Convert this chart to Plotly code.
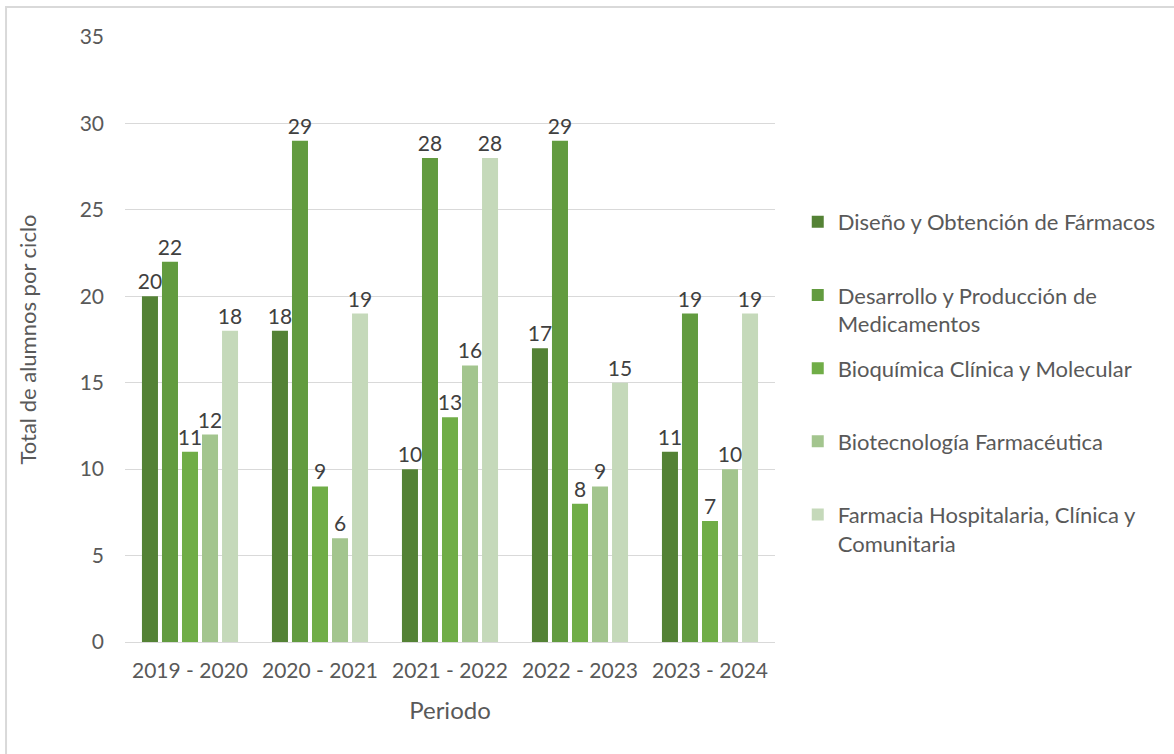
import plotly.graph_objects as go

periods = ["2019 - 2020", "2020 - 2021", "2021 - 2022", "2022 - 2023", "2023 - 2024"]
series_names = [
    "Diseño y Obtención de Fármacos",
    "Desarrollo y Producción de<br>Medicamentos",
    "Bioquímica Clínica y Molecular",
    "Biotecnología Farmacéutica",
    "Farmacia Hospitalaria, Clínica y<br>Comunitaria",
]
diseno = [20, 18, 10, 17, 11]
desarrollo = [22, 29, 28, 29, 19]
bioquimica = [11, 9, 13, 8, 7]
biotecnologia = [12, 6, 16, 9, 10]
farmacia = [18, 19, 28, 15, 19]
colors = ["#548235", "#629B3F", "#70AD47", "#A3C58E", "#C5D9BA"]

FONT = "Lato"
TEXT = "#595959"

fig = go.Figure()
for name, values, color in zip(series_names, [diseno, desarrollo, bioquimica, biotecnologia, farmacia], colors):
    # pad single-line names so every legend entry is two lines tall
    label = name if "<br>" in name else name + "<br> "
    fig.add_trace(
        go.Bar(
            x=periods,
            y=values,
            name=label,
            legendgroup=name,
            marker={"color": color, "line": {"width": 0}},
            text=values,
            textposition="outside",
            constraintext="none",
            cliponaxis=False,
            textfont={"family": FONT, "size": 21, "color": "#404040"},
        )
    )

fig.update_layout(
    width=1174,
    height=754,
    paper_bgcolor="white",
    plot_bgcolor="white",
    barmode="group",
    bargap=0.23,
    bargroupgap=0.2,
    font={"family": FONT, "size": 21, "color": TEXT},
    margin={"l": 125, "r": 399, "t": 37, "b": 112},
    xaxis={
        "showline": True,
        "linecolor": "#D9D9D9",
        "linewidth": 1,
        "tickfont": {"size": 21, "color": TEXT},
        "ticklabelstandoff": 10,
        "title": {"text": "Periodo", "font": {"size": 24, "color": TEXT}, "standoff": 20},
    },
    yaxis={
        "range": [0, 35],
        "dtick": 5,
        "gridcolor": "#D9D9D9",
        "zeroline": False,
        "tickfont": {"size": 21, "color": TEXT},
        "ticklabelstandoff": 20,
        "title": {"text": "Total de alumnos por ciclo", "font": {"size": 22, "color": TEXT}, "standoff": 36},
    },
    legend={
        "x": 1.035,
        "y": 0.729,
        "xanchor": "left",
        "yanchor": "top",
        "valign": "top",
        "traceorder": "grouped",
        "tracegroupgap": 13,
        "itemwidth": 30,
        "font": {"size": 22, "color": TEXT},
    },
    showlegend=True,
    shapes=[
        {
            "type": "rect",
            "xref": "paper",
            "yref": "paper",
            "x0": -0.183,
            "x1": 1.7,
            "y0": -0.3,
            "y1": 1.0496,
            "line": {"color": "#D9D9D9", "width": 2},
            "fillcolor": "rgba(0,0,0,0)",
            "layer": "below",
        }
    ],
)

fig.write_html(
    "out.html",
    config={"displayModeBar": False},
    post_script="document.body.style.margin='0';",
)
